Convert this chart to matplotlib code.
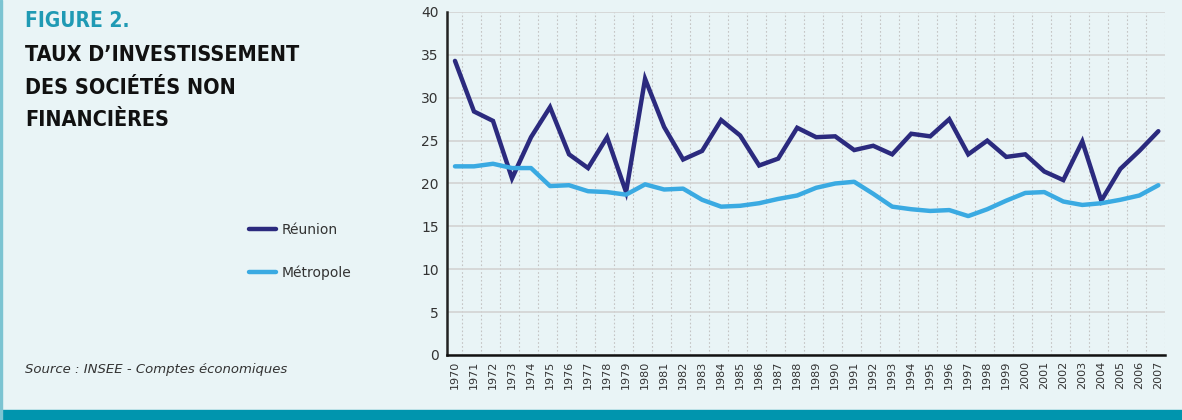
import matplotlib.pyplot as plt
from matplotlib.lines import Line2D
from matplotlib.patches import Rectangle
from matplotlib.ticker import MultipleLocator

# données
years = list(range(1970, 2008))
reunion = [34.3, 28.4, 27.3, 20.6, 25.4, 28.9, 23.4, 21.8, 25.4, 19.0,
           32.2, 26.6, 22.8, 23.8, 27.4, 25.6, 22.1, 22.9, 26.5, 25.4,
           25.5, 23.9, 24.4, 23.4, 25.8, 25.5, 27.5, 23.4, 25.0, 23.1,
           23.4, 21.4, 20.4, 24.9, 18.0, 21.7, 23.8, 26.1]
metropole = [22.0, 22.0, 22.3, 21.8, 21.8, 19.7, 19.8, 19.1, 19.0, 18.7,
             19.9, 19.3, 19.4, 18.1, 17.3, 17.4, 17.7, 18.2, 18.6, 19.5,
             20.0, 20.2, 18.8, 17.3, 17.0, 16.8, 16.9, 16.2, 17.0, 18.0,
             18.9, 19.0, 17.9, 17.5, 17.7, 18.1, 18.6, 19.8]
series_labels = ["Réunion", "Métropole"]
title_lines = ["TAUX D\u2019INVESTISSEMENT", "DES SOCIÉTÉS NON", "FINANCIÈRES"]

BG = "#e9f4f6"
TEAL = "#0095ae"
NAVY = "#2b2a7e"
SKY = "#3aaae2"
TXT = "#333333"

fig = plt.figure(figsize=(11.82, 4.2), dpi=100, facecolor=BG)

# cadre : bande du bas + filet gauche
fig.patches.append(Rectangle((0, 0), 1, 10 / 420, transform=fig.transFigure,
                             color=TEAL, zorder=0))
fig.patches.append(Rectangle((0, 0), 2 / 1182, 1, transform=fig.transFigure,
                             color="#7cc4d2", zorder=0))

ax = fig.add_axes([447 / 1182, 1 - 355 / 420, 718 / 1182, 343 / 420])
ax.set_facecolor(BG)

ax.plot(years, reunion, color=NAVY, lw=3.2, solid_capstyle="round",
        solid_joinstyle="miter", zorder=3)
ax.plot(years, metropole, color=SKY, lw=3.2, solid_capstyle="round", zorder=3)

ax.set_xlim(1969.58, 2007.15)
ax.set_ylim(0, 40)
ax.yaxis.set_major_locator(MultipleLocator(5))
ax.set_xticks(years)
ax.set_xticklabels([str(y) for y in years], rotation=90, fontsize=8,
                   color=TXT)
ax.tick_params(axis="x", length=0, pad=4)
ax.tick_params(axis="y", length=0, pad=6, labelsize=10, labelcolor=TXT)

# grille horizontale pleine, verticale pointillée décalée
ax.grid(axis="y", color="#d3d3d3", lw=1.2, zorder=1)
ax.set_xticks([y + 0.35 for y in years], minor=True)
ax.tick_params(axis="x", which="minor", length=0)
ax.grid(axis="x", which="minor", color="#c4c4c4", lw=0.8, ls=(0, (1.5, 2)),
        zorder=1)

for s in ["top", "right"]:
    ax.spines[s].set_visible(False)
ax.spines["left"].set_color("#222222")
ax.spines["left"].set_linewidth(1.8)
ax.spines["bottom"].set_color("#111111")
ax.spines["bottom"].set_linewidth(1.8)

# titre
fig.text(25 / 1182, 1 - 21 / 420, "FIGURE 2.", color="#1f9ab4", fontsize=15,
         fontweight="bold", fontstretch="condensed", family="DejaVu Sans",
         va="center", ha="left")
for i, line in enumerate(title_lines):
    fig.text(25 / 1182, 1 - (55 + i * 32.5) / 420, line, color="#111111",
             fontsize=15.5, fontweight="bold", fontstretch="condensed",
             family="DejaVu Sans", va="center", ha="left")

# légende
handles = [Line2D([], [], color=NAVY, lw=3.2, solid_capstyle="round"),
           Line2D([], [], color=SKY, lw=3.2, solid_capstyle="round")]
fig.legend(handles, series_labels, loc="upper left",
           bbox_to_anchor=(236 / 1182, 1 - 210 / 420), frameon=False,
           handlelength=2.0, handletextpad=0.4, labelspacing=2.1,
           prop={"family": "DejaVu Sans", "size": 10}, labelcolor=TXT)

fig.text(25 / 1182, 1 - 369 / 420, "Source : INSEE - Comptes économiques",
         fontsize=9.5, style="italic", color=TXT,
         va="center", ha="left")

fig.savefig("out.png", dpi=100, facecolor=BG)
